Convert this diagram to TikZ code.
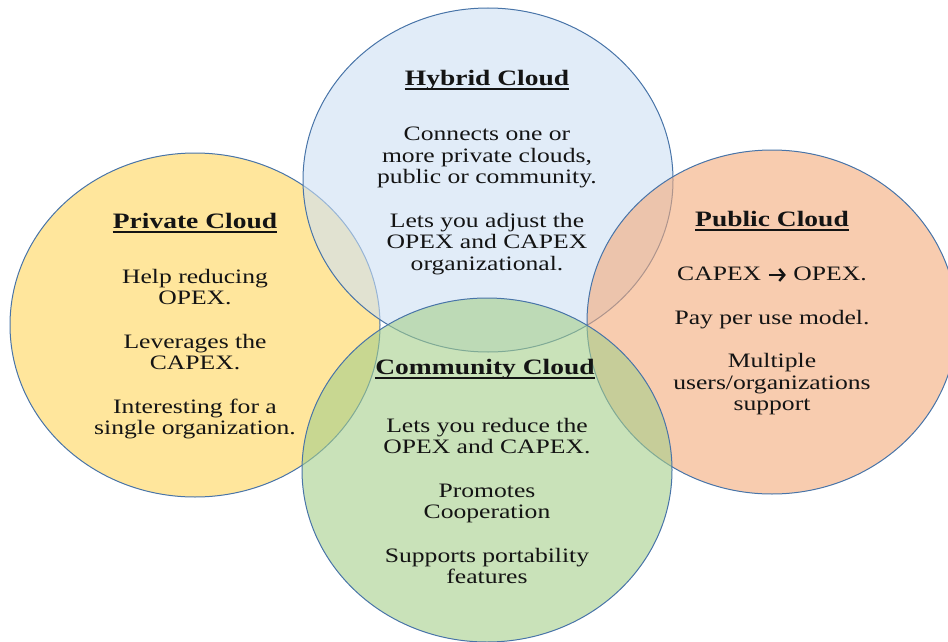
\documentclass[tikz,border=0pt]{standalone}
\usepackage{fontspec}
\setmainfont{Liberation Serif}[FakeStretch=1.25]
\usetikzlibrary{shapes.geometric,arrows.meta}
\definecolor{edgeblue}{RGB}{72,116,168}
\definecolor{privfill}{RGB}{255,213,90}
\definecolor{hybfill}{RGB}{205,224,244}
\definecolor{pubfill}{RGB}{243,170,122}
\definecolor{commfill}{RGB}{165,206,138}
\newcommand{\capexarrow}{\tikz[baseline=-0.6ex]\draw[line width=2.4pt, black!92,
  -{Straight Barb[length=5pt,width=12pt,line width=2.4pt]}] (0pt,0pt) -- (17pt,0pt);}
\tikzset{
  cloudset/.style={ellipse, draw=edgeblue, line width=1pt, fill opacity=0.6,
    minimum width=370pt, minimum height=344pt, inner sep=0pt},
  headtext/.style={font=\fontsize{22}{24}\selectfont\bfseries, text=black!92,
    inner sep=0pt, anchor=base},
  bodytext/.style={font=\fontsize{20.5}{21.5}\selectfont, align=center,
    text=black!92, inner sep=0pt},
  headline/.style={line width=1.4pt, black!92}
}
\begin{document}
\begin{tikzpicture}[x=1pt,y=-1pt]
\useasboundingbox (0,0) rectangle (948,642);
% the four clouds
\node[cloudset, fill=privfill] (private) at (195,325){};
\node[cloudset, fill=hybfill] (hybrid) at (488,180){};
\node[cloudset, fill=pubfill] (public) at (772,322){};
\node[cloudset, fill=commfill] (community) at (487,470){};
% titles
\node[headtext] (privtitle) at (195,228){Private Cloud};
\node[headtext] (hybtitle) at (487,85){Hybrid Cloud};
\node[headtext] (pubtitle) at (772,226){Public Cloud};
\node[headtext] (commtitle) at (485,374){Community Cloud};
\foreach \t in {privtitle,hybtitle,pubtitle,commtitle}
  \draw[headline] ([yshift=-4pt]\t.base west) -- ([yshift=-4pt]\t.base east);
% texts
\node[bodytext] (privtext) at (195,354){Help reducing\\OPEX.\\[22pt]
  Leverages the\\CAPEX.\\[22pt]Interesting for a\\single organization.};
\node[bodytext] (hybtext) at (487,201){Connects one or\\more private clouds,\\
  public or community.\\[22pt]Lets you adjust the\\OPEX and CAPEX\\organizational.};
\node[bodytext] (pubtext) at (772,341){CAPEX \capexarrow{} OPEX.\\[22pt]
  Pay per use model.\\[22pt]Multiple\\users/organizations\\support};
\node[bodytext] (commtext) at (487,501){Lets you reduce the\\OPEX and CAPEX.\\[22pt]
  Promotes\\Cooperation\\[22pt]Supports portability\\features};
\end{tikzpicture}
\end{document}
